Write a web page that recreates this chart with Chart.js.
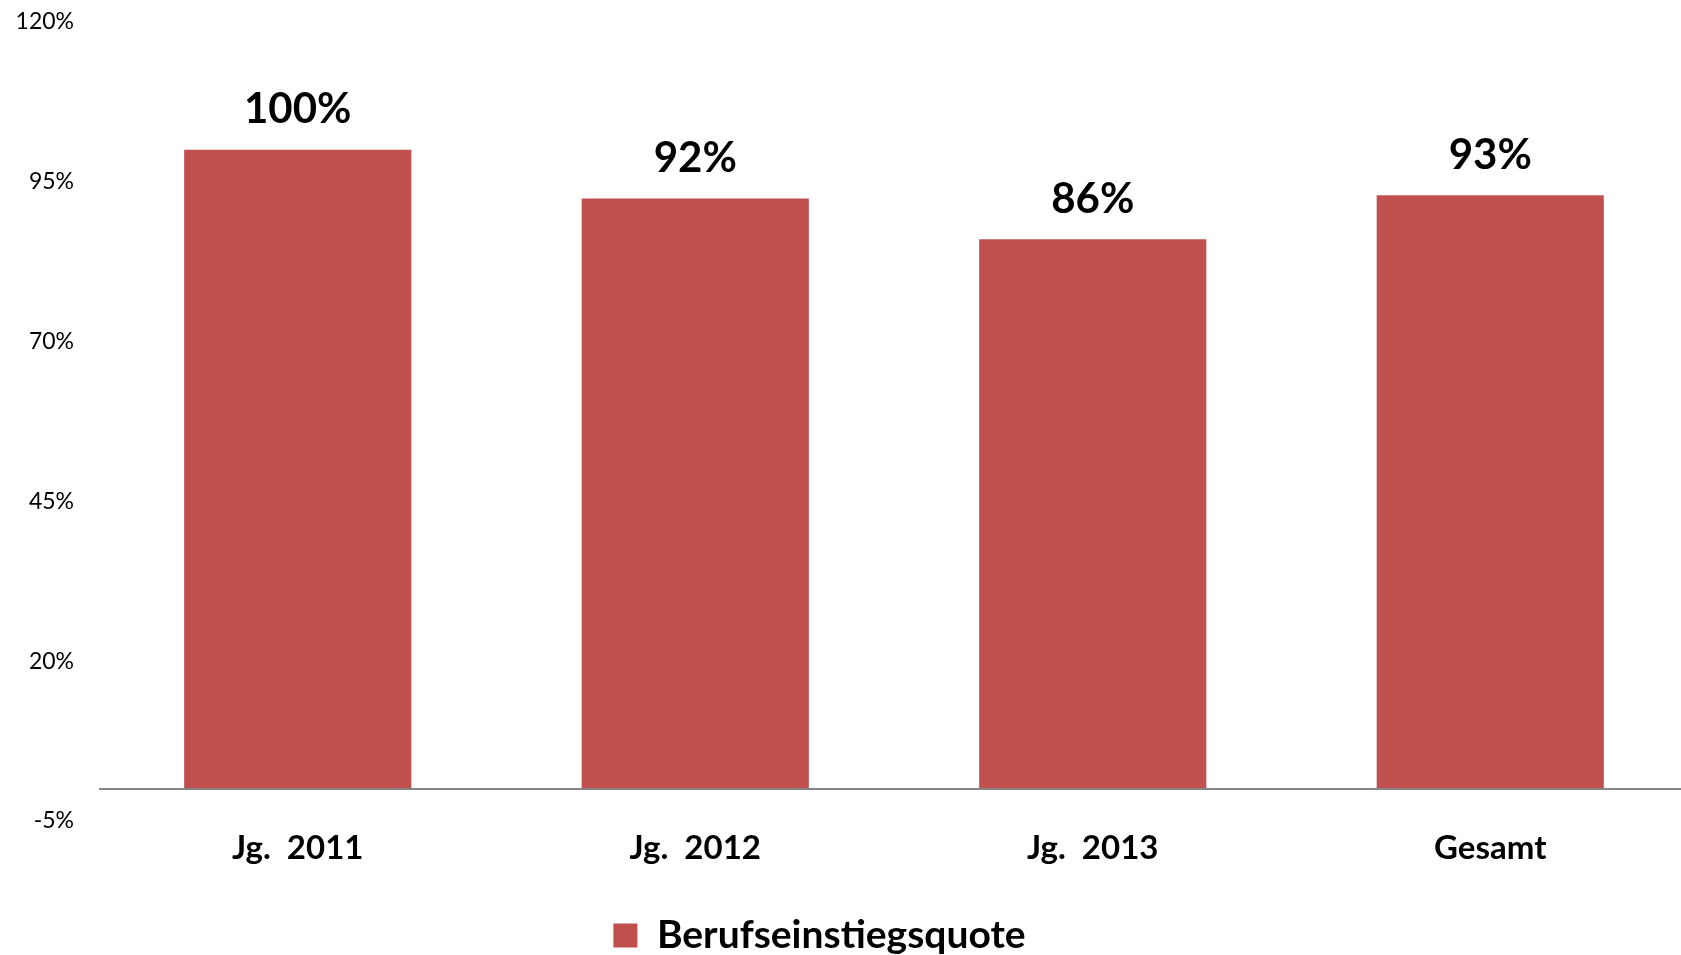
<!DOCTYPE html>
<html>
<head>
<meta charset="utf-8">
<script src="https://cdn.jsdelivr.net/npm/chart.js@4.4.1/dist/chart.umd.min.js"></script>
<style>
  html, body { margin: 0; padding: 0; background: #fff; }
  #wrap { width: 1681px; height: 955px; }
</style>
</head>
<body>
<div id="wrap"><canvas id="quoteChart"></canvas></div>
<script>
// ========= Data =========
const categories = ["Jg.  2011", "Jg.  2012", "Jg.  2013", "Gesamt"];
const quoteValues = [100, 92.4, 86, 92.9];
const quoteLabels = ["100%", "92%", "86%", "93%"];
const seriesName = "Berufseinstiegsquote";
const yMin = -5;
const yMax = 120;
const yStep = 25;

const FONT = "Lato, 'Open Sans', sans-serif";

// ========= Layout tweaks (plot runs slightly past the right edge, legend nudged) =========
const layoutTweak = {
    id: "layoutTweak",
    afterLayout(chart) {
        const x = chart.scales.x;
        x.right += 8;
        x.width += 8;
        x.configure();
        chart.chartArea.right += 8;
        chart.chartArea.width += 8;

        const lg = chart.legend;
        lg.left -= 21;
        lg.right -= 21;
        lg.top += 10;
        lg.bottom += 10;
    },
};

// ========= Zero baseline =========
const zeroLine = {
    id: "zeroLine",
    afterDatasetsDraw(chart) {
        const { ctx, chartArea, scales } = chart;
        const y = Math.round(scales.y.getPixelForValue(0));
        ctx.save();
        ctx.strokeStyle = "#868686";
        ctx.lineWidth = 2;
        ctx.beginPath();
        ctx.moveTo(chartArea.left, y);
        ctx.lineTo(chartArea.right, y);
        ctx.stroke();
        ctx.restore();
    },
};

// ========= Value labels above bars =========
const valueLabels = {
    id: "valueLabels",
    afterDatasetsDraw(chart) {
        const ctx = chart.ctx;
        const meta = chart.getDatasetMeta(0);
        ctx.save();
        ctx.font = "bold 42px " + FONT;
        ctx.fillStyle = "#000";
        ctx.textAlign = "center";
        ctx.textBaseline = "middle";
        meta.data.forEach((bar, i) => {
            ctx.fillText(quoteLabels[i], bar.x, bar.y - 40);
        });
        ctx.restore();
    },
};

new Chart(document.getElementById("quoteChart"), {
    type: "bar",
    data: {
        labels: categories,
        datasets: [
            {
                label: seriesName,
                data: quoteValues,
                backgroundColor: "#C0504D",
                categoryPercentage: 1,
                barPercentage: 0.5715,
            },
        ],
    },
    options: {
        responsive: true,
        maintainAspectRatio: false,
        animation: false,
        layout: { padding: { top: 22, right: 0, bottom: 0, left: 0 } },
        plugins: {
            legend: {
                position: "bottom",
                labels: {
                    color: "#000",
                    font: { family: FONT, size: 39, weight: "bold" },
                    boxWidth: 24,
                    boxHeight: 24,
                    padding: 5,
                },
            },
            tooltip: { enabled: false },
        },
        scales: {
            y: {
                min: yMin,
                max: yMax,
                afterFit: (s) => {
                    s.width = 99;
                    s.paddingTop = 0;
                    s.paddingBottom = 0;
                },
                ticks: {
                    stepSize: yStep,
                    color: "#000",
                    font: { family: FONT, size: 23 },
                    padding: 25,
                    callback: (v) => v + "%",
                },
                grid: { display: false, drawTicks: false },
                border: { display: false },
            },
            x: {
                afterFit: (s) => { s.height = 80; },
                ticks: {
                    color: "#000",
                    font: { family: FONT, size: 33, weight: "bold" },
                    padding: 8,
                },
                grid: { display: false, drawTicks: false },
                border: { display: false },
            },
        },
    },
    plugins: [layoutTweak, zeroLine, valueLabels],
});
</script>
</body>
</html>
